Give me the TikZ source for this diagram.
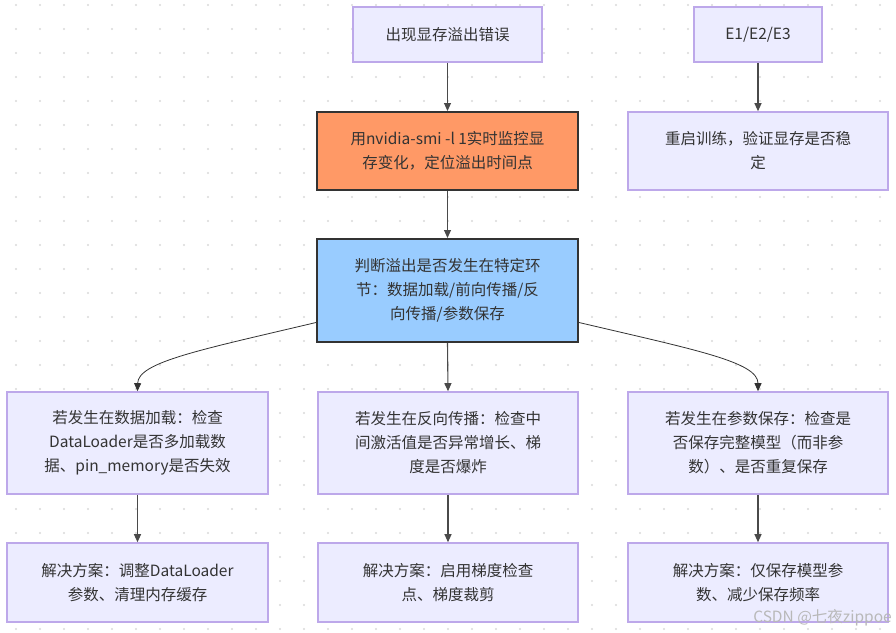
\documentclass[tikz,border=0pt]{standalone}
\usepackage{fontspec}
\setmainfont{Noto Sans CJK SC}
\usetikzlibrary{arrows.meta,calc}
\definecolor{lavfill}{HTML}{ECECFF}
\definecolor{lavdraw}{HTML}{BDA8EA}
\definecolor{orfill}{HTML}{FF9966}
\definecolor{blfill}{HTML}{99CCFF}
\definecolor{dark}{HTML}{333333}
\definecolor{txt}{HTML}{333333}
\definecolor{dotc}{HTML}{D9D9D9}
\definecolor{edge}{HTML}{4A4A4A}
\tikzset{
  base/.style={rectangle, inner sep=0pt, align=center, text=txt,
    font=\fontsize{15.5}{24}\selectfont},
  lav/.style={base, fill=lavfill, draw=lavdraw, line width=1.6pt},
  orbox/.style={base, fill=orfill, draw=dark, line width=2pt},
  blbox/.style={base, fill=blfill, draw=dark, line width=2pt},
  conn/.style={draw=edge, line width=1.1pt, -{Triangle[width=7pt,length=8pt]}},
  cconn/.style={draw=dark, line width=0.8pt, -{Triangle[width=7pt,length=8pt]}},
}
\begin{document}
\begin{tikzpicture}[x=1pt,y=-1pt]
\fill[white] (0,0) rectangle (896,632);
\useasboundingbox (0,0) rectangle (896,632);
\foreach \i in {0,...,36}{
  \foreach \j in {0,...,26}{
    \fill[dotc] (16+24*\i,5+24*\j) circle (1.1);
  }
}
\node[lav, minimum width=189pt, minimum height=55pt] (top) at (447.5,34.5) {出现显存溢出错误};
\node[lav, minimum width=128pt, minimum height=55pt] (e) at (758,34.5) {E1/E2/E3};
\node[orbox, minimum width=261pt, minimum height=78pt] (mon) at (447.5,151) {用nvidia-smi -l 1实时监控显\\存变化，定位溢出时间点};
\node[lav, minimum width=260pt, minimum height=78pt] (restart) at (758,151) {重启训练，验证显存是否稳\\定};
\node[blbox, minimum width=261pt, minimum height=103pt] (judge) at (447.5,290.5) {判断溢出是否发生在特定环\\节：数据加载/前向传播/反\\向传播/参数保存};
\node[lav, minimum width=261pt, minimum height=102pt] (d1) at (137.5,443) {若发生在数据加载：检查\\DataLoader是否多加载数\\据、pin\_memory是否失效};
\node[lav, minimum width=260pt, minimum height=102pt] (d2) at (448,443) {若发生在反向传播：检查中\\间激活值是否异常增长、梯\\度是否爆炸};
\node[lav, minimum width=260pt, minimum height=102pt] (d3) at (758,443) {若发生在参数保存：检查是\\否保存完整模型（而非参\\数）、是否重复保存};
\node[lav, minimum width=261pt, minimum height=79pt] (s1) at (137.5,582.5) {解决方案：调整DataLoader\\参数、清理内存缓存};
\node[lav, minimum width=260pt, minimum height=79pt] (s2) at (448,582.5) {解决方案：启用梯度检查\\点、梯度裁剪};
\node[lav, minimum width=260pt, minimum height=79pt] (s3) at (758,582.5) {解决方案：仅保存模型参\\数、减少保存频率};
\draw[conn] (top.south) -- (mon.north);
\draw[conn] (e.south) -- (restart.north);
\draw[conn] (mon.south) -- (judge.north);
\draw[conn] (judge.south) -- (d2.north);
\draw[cconn] ([yshift=-32pt]judge.west) .. controls (200,350) and (138,362) .. (d1.north);
\draw[cconn] ([yshift=-32pt]judge.east) .. controls (696,350) and (758,362) .. (d3.north);
\draw[conn] (d1.south) -- (s1.north);
\draw[conn] (d2.south) -- (s2.north);
\draw[conn] (d3.south) -- (s3.north);
\node[anchor=south east, inner sep=0pt, text=black!28, font=\fontsize{15.5}{17}\selectfont] (wm) at (892,626) {CSDN @七夜zippoe};
\end{tikzpicture}
\end{document}
